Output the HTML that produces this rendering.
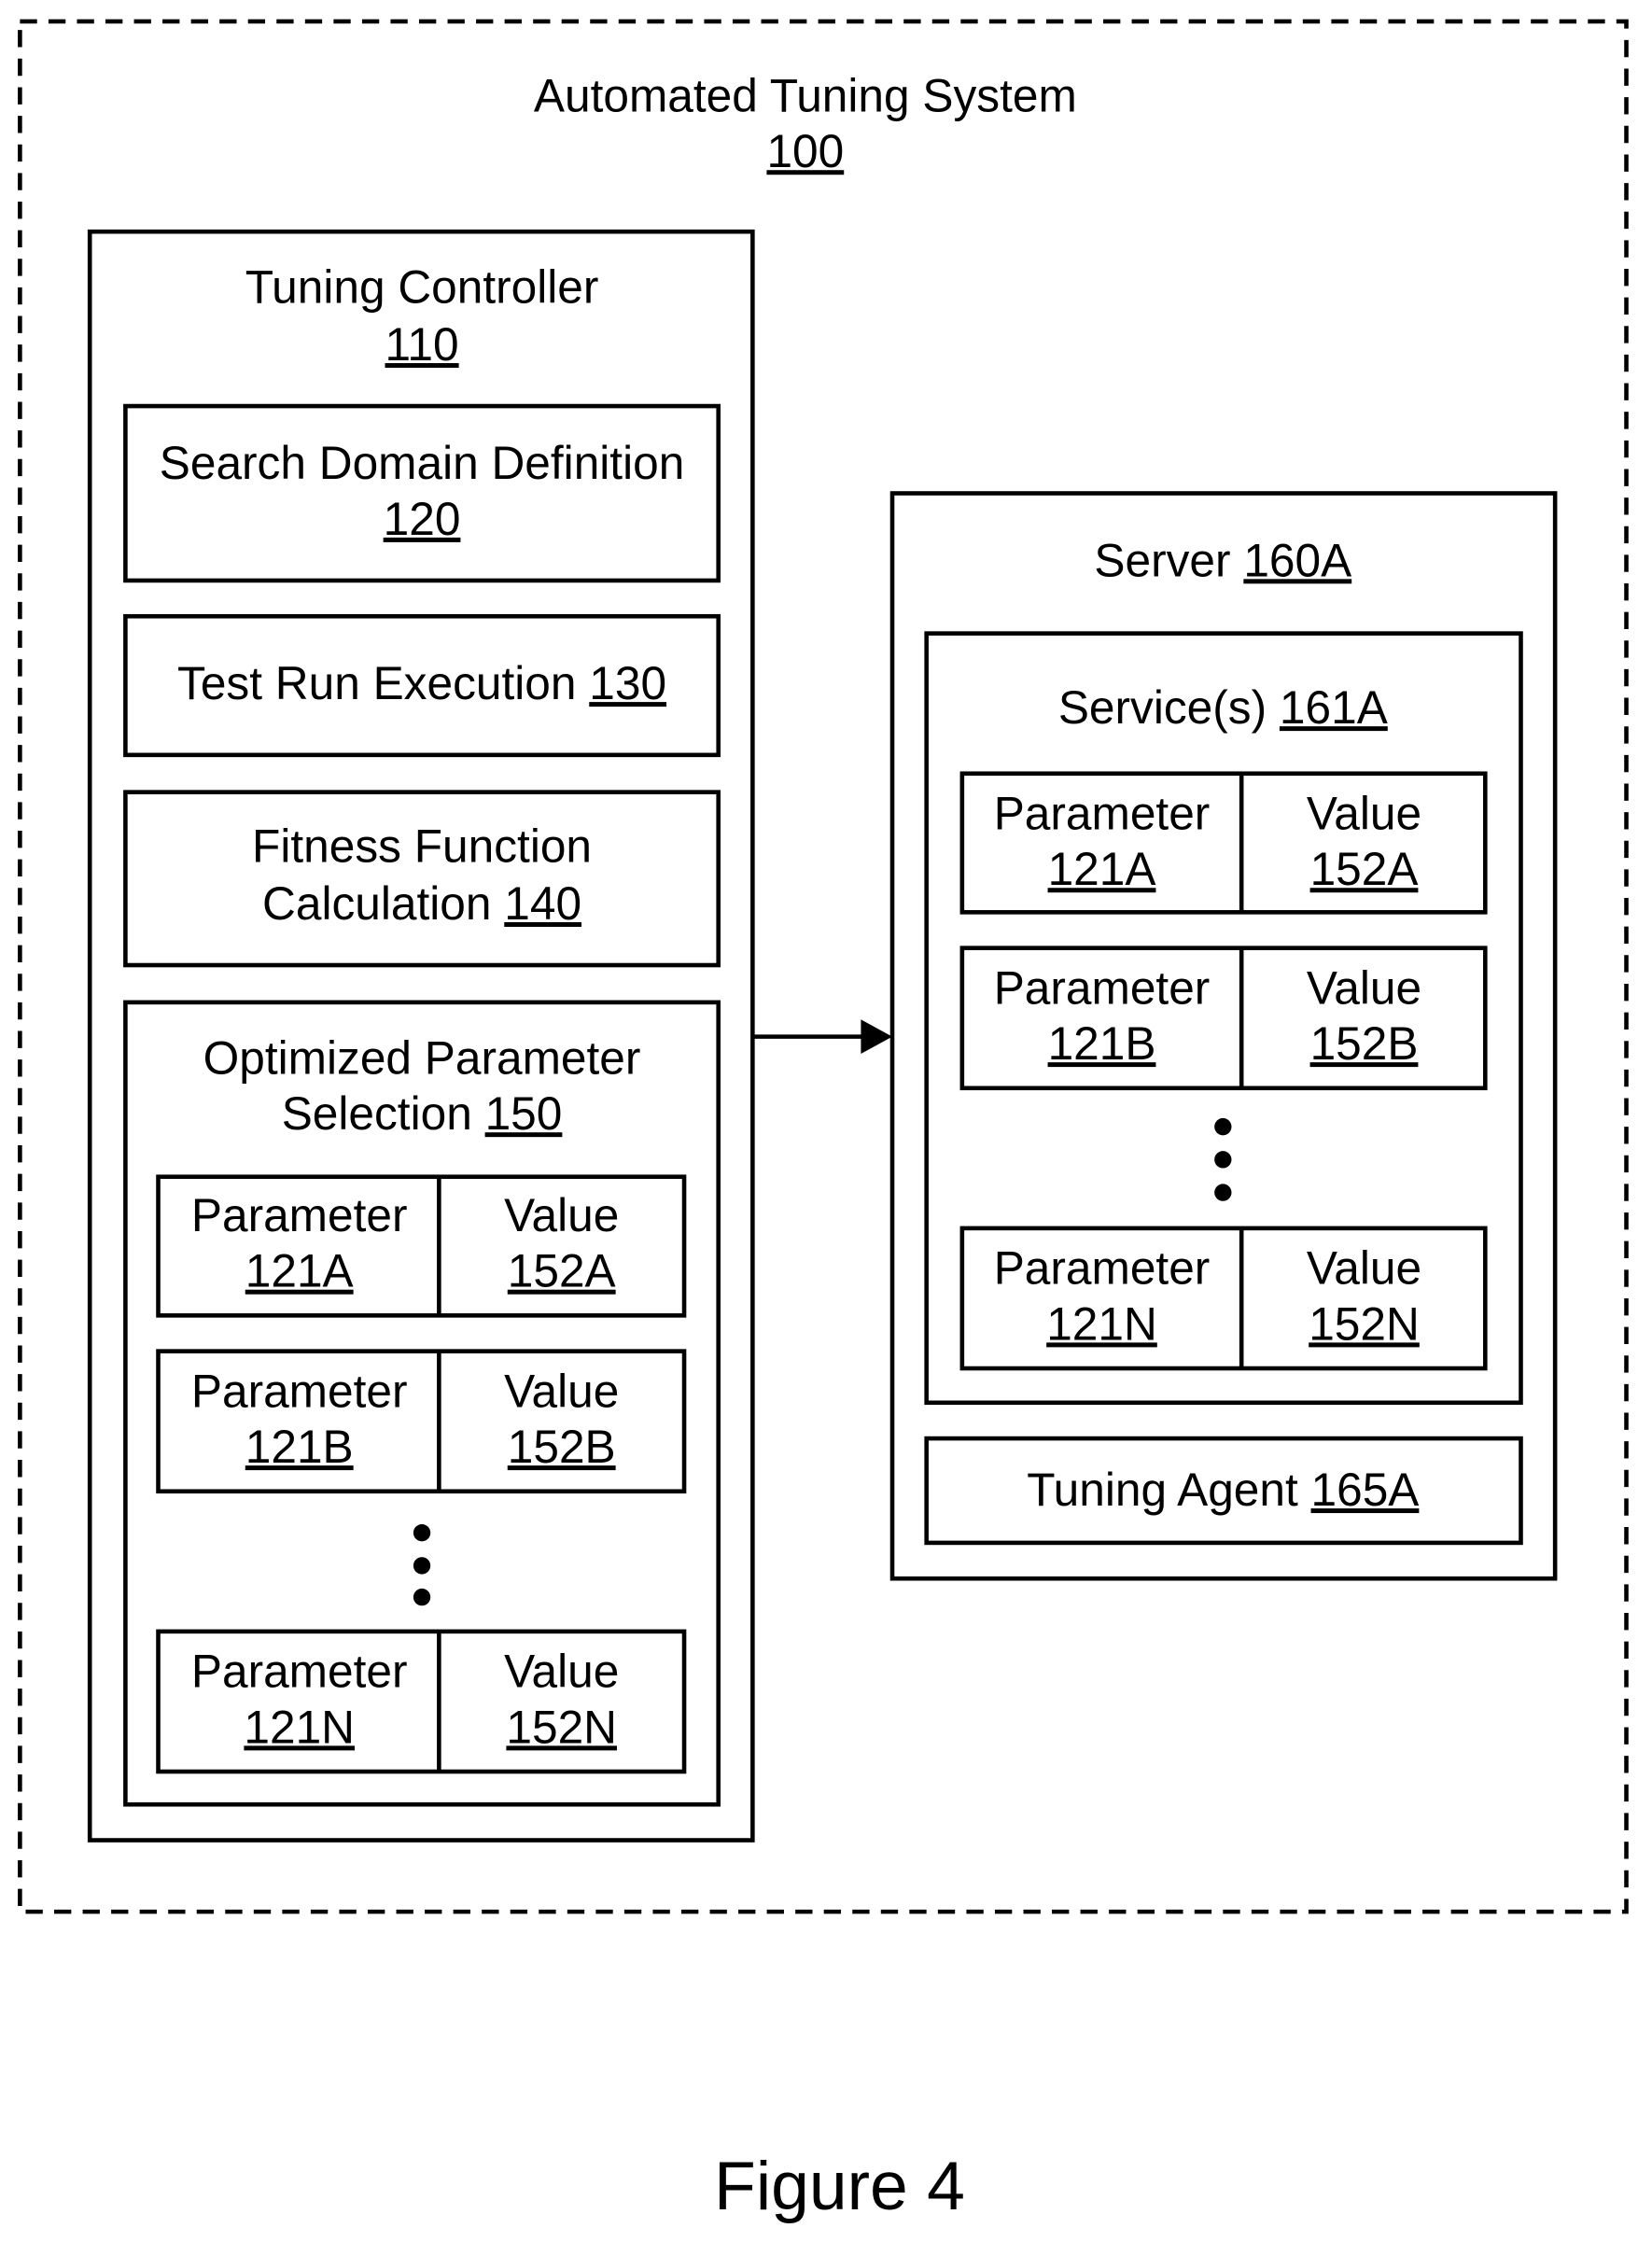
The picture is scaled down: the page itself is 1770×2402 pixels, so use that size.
<!DOCTYPE html>
<html><head><meta charset="utf-8"><style>
html,body{margin:0;padding:0;background:#fff;}
svg{display:block;}
text{font-family:"Liberation Sans",Arial,sans-serif;font-size:32.5px;fill:#000;text-anchor:middle;}
.u{text-decoration:underline;}
rect{fill:none;stroke:#000;stroke-width:3;}
</style></head><body>
<svg width="1770" height="2402" viewBox="0 0 1159 1568" preserveAspectRatio="none" xmlns="http://www.w3.org/2000/svg">
<rect x="14" y="15" width="1127" height="1322" stroke-dasharray="12,8"/>
<text x="565" y="78">Automated Tuning System</text>
<text x="565" y="117" class="u">100</text>

<rect x="63" y="162" width="465" height="1125"/>
<text x="296" y="212">Tuning Controller</text>
<text x="296" y="252" class="u">110</text>

<rect x="88" y="284" width="416" height="122"/>
<text x="296" y="335">Search Domain Definition</text>
<text x="296" y="374" class="u">120</text>

<rect x="88" y="431" width="416" height="97"/>
<text x="296" y="489">Test Run Execution <tspan class="u">130</tspan></text>

<rect x="88" y="554" width="416" height="121"/>
<text x="296" y="603">Fitness Function</text>
<text x="296" y="643">Calculation <tspan class="u">140</tspan></text>

<rect x="88" y="701" width="416" height="561"/>
<text x="296" y="751">Optimized Parameter</text>
<text x="296" y="790">Selection <tspan class="u">150</tspan></text>

<g>
<rect x="111" y="823" width="369" height="97"/><line x1="308" y1="823" x2="308" y2="920" stroke="#000" stroke-width="3"/>
<text x="210" y="861">Parameter</text><text x="210" y="900" class="u">121A</text>
<text x="394" y="861">Value</text><text x="394" y="900" class="u">152A</text>

<rect x="111" y="945" width="369" height="98"/><line x1="308" y1="945" x2="308" y2="1043" stroke="#000" stroke-width="3"/>
<text x="210" y="984">Parameter</text><text x="210" y="1023" class="u">121B</text>
<text x="394" y="984">Value</text><text x="394" y="1023" class="u">152B</text>

<circle cx="296" cy="1072" r="6"/><circle cx="296" cy="1095" r="6"/><circle cx="296" cy="1117" r="6"/>

<rect x="111" y="1141" width="369" height="98"/><line x1="308" y1="1141" x2="308" y2="1239" stroke="#000" stroke-width="3"/>
<text x="210" y="1180">Parameter</text><text x="210" y="1219" class="u">121N</text>
<text x="394" y="1180">Value</text><text x="394" y="1219" class="u">152N</text>
</g>

<line x1="528" y1="725" x2="606" y2="725" stroke="#000" stroke-width="3"/>
<polygon points="604,713 626,725 604,737" fill="#000"/>

<rect x="626" y="345" width="465" height="759"/>
<text x="858" y="403">Server <tspan class="u">160A</tspan></text>

<rect x="650" y="443" width="417" height="538"/>
<text x="858" y="506">Service(s) <tspan class="u">161A</tspan></text>

<rect x="675" y="541" width="367" height="97"/><line x1="871" y1="541" x2="871" y2="638" stroke="#000" stroke-width="3"/>
<text x="773" y="580">Parameter</text><text x="773" y="619" class="u">121A</text>
<text x="957" y="580">Value</text><text x="957" y="619" class="u">152A</text>

<rect x="675" y="663" width="367" height="98"/><line x1="871" y1="663" x2="871" y2="761" stroke="#000" stroke-width="3"/>
<text x="773" y="702">Parameter</text><text x="773" y="741" class="u">121B</text>
<text x="957" y="702">Value</text><text x="957" y="741" class="u">152B</text>

<circle cx="858" cy="788" r="6"/><circle cx="858" cy="811" r="6"/><circle cx="858" cy="834" r="6"/>

<rect x="675" y="859" width="367" height="98"/><line x1="871" y1="859" x2="871" y2="957" stroke="#000" stroke-width="3"/>
<text x="773" y="898">Parameter</text><text x="773" y="937" class="u">121N</text>
<text x="957" y="898">Value</text><text x="957" y="937" class="u">152N</text>

<rect x="650" y="1006" width="417" height="73"/>
<text x="858" y="1053">Tuning Agent <tspan class="u">165A</tspan></text>

<text x="589" y="1545" style="font-size:48px">Figure 4</text>
</svg>
</body></html>
